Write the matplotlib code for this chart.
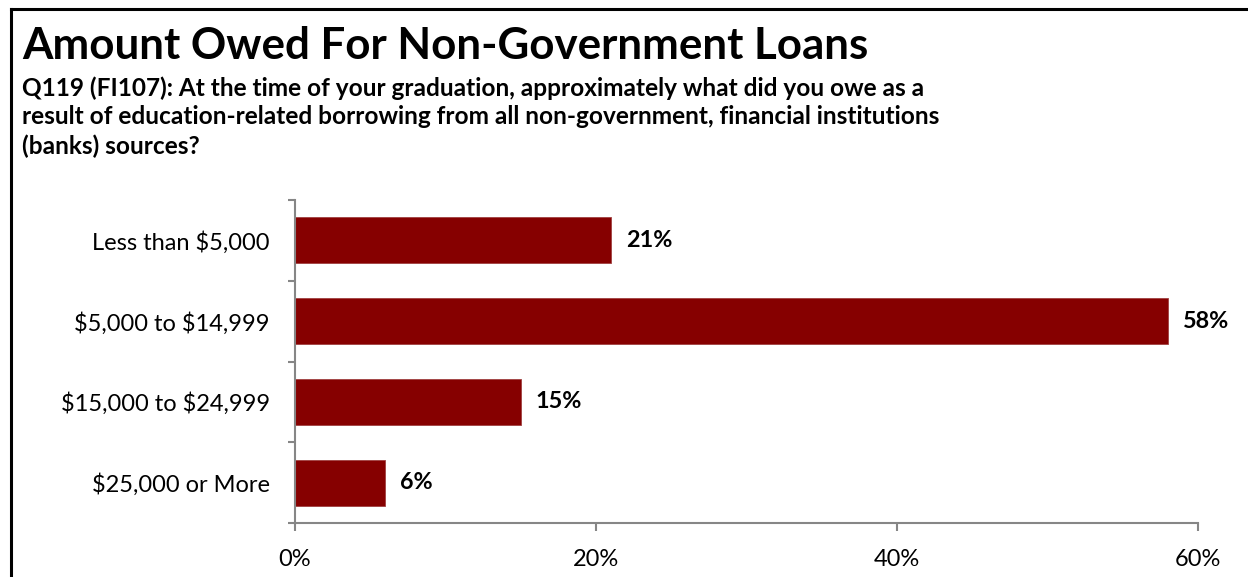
import matplotlib.pyplot as plt
from matplotlib.ticker import FuncFormatter, FixedLocator
from matplotlib.lines import Line2D

# survey answers, top to bottom
categories = ["Less than $5,000", "$5,000 to $14,999", "$15,000 to $24,999", "$25,000 or More"]
shares = [21, 58, 15, 6]
x_ticks = [0, 20, 40, 60]

title = "Amount Owed For Non-Government Loans"
question = ("Q119 (FI107): At the time of your graduation, approximately what did you owe as a\n"
            "result of education-related borrowing from all non-government, financial institutions\n"
            "(banks) sources?")

plt.rcParams['font.family'] = ['Lato', 'DejaVu Sans']
plt.rcParams['text.parse_math'] = False  # dollar signs are plain text here
bar_color = "#860000"
axis_color = "#868686"

W, H = 1248, 577
fig = plt.figure(figsize=(W / 100, H / 100), dpi=100)

# axes box in pixel terms: left 295, right 1198, top 200, bottom 523
ax = fig.add_axes([295 / W, 1 - 523 / H, (1198 - 295) / W, (523 - 200) / H])

ypos = list(range(len(categories)))
ax.barh(ypos, shares, height=0.57, color=bar_color, edgecolor="#a04040", linewidth=0.6)
for y, v in zip(ypos, shares):
    ax.text(v + 1.0, y, f"{v}%", va="center", ha="left", fontsize=16.8, fontweight="bold")

ax.set_xlim(0, 60)
ax.set_ylim(len(categories) - 0.5, -0.5)
ax.set_yticks(ypos)
ax.set_yticklabels(categories, fontsize=17)
ax.yaxis.set_minor_locator(FixedLocator([i - 0.5 for i in range(len(categories) + 1)]))
ax.tick_params(axis="y", which="major", length=0, pad=18)
ax.tick_params(axis="y", which="minor", length=5, width=1.5, color=axis_color)

ax.xaxis.set_major_locator(FixedLocator(x_ticks))
ax.xaxis.set_major_formatter(FuncFormatter(lambda v, p: f"{v:.0f}%"))
ax.tick_params(axis="x", length=6, width=1.5, color=axis_color, labelsize=17, pad=13)

for side in ["top", "right"]:
    ax.spines[side].set_visible(False)
for side in ["left", "bottom"]:
    ax.spines[side].set_color(axis_color)
    ax.spines[side].set_linewidth(1.5)

# headings
fig.text(22 / W, 1 - 46 / H, title, fontsize=31.6, fontweight="bold", va="center", ha="left")
fig.text(22 / W, 1 - 76 / H, question, fontsize=17.6, fontweight="bold", va="top", ha="left",
         linespacing=1.3)

# frame lines at top and left
fig.add_artist(Line2D([11 / W, 1], [1 - 9 / H, 1 - 9 / H], color="black", lw=2.2))
fig.add_artist(Line2D([11 / W, 11 / W], [0, 1 - 9 / H], color="black", lw=2.2))

fig.savefig("out.png", dpi=100)
